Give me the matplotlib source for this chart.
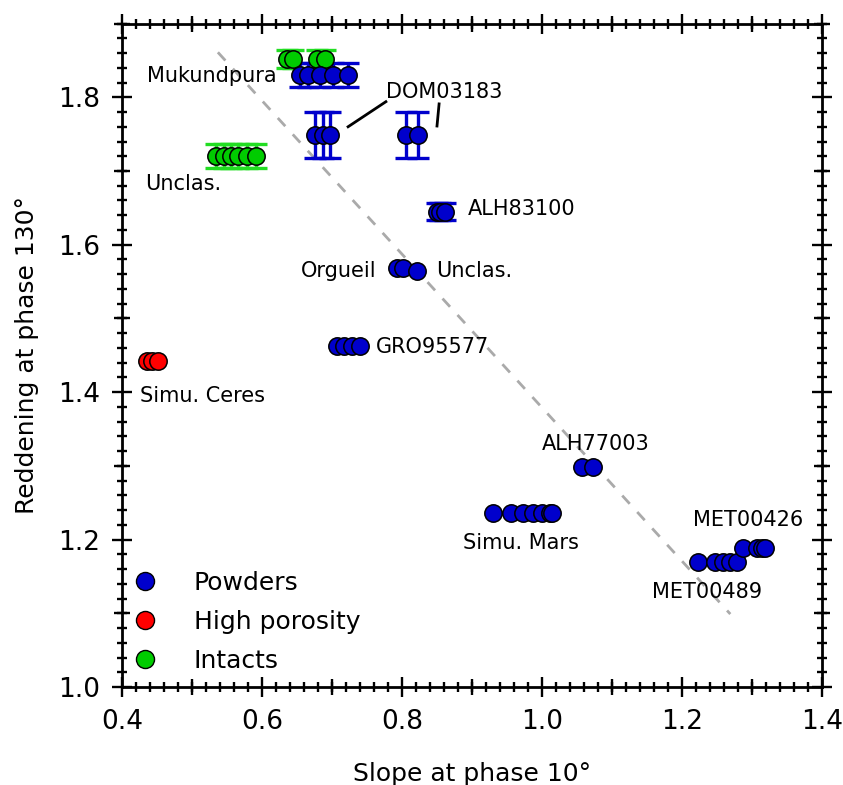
import matplotlib
matplotlib.use("Agg")
import matplotlib.pyplot as plt
import numpy as np
from matplotlib.lines import Line2D
from matplotlib.ticker import MultipleLocator, FixedLocator, NullFormatter

plt.rcParams['font.family'] = ['DejaVu Sans']

BLUE = '#0000cc'
RED = '#ff0000'
GREEN = '#00cc00'
GREEN_ERR = '#22dd22'

# powders (slope at 10 deg, reddening at 130 deg, error on reddening)
muk_x = [0.654, 0.666, 0.683, 0.701, 0.723]
muk_y = 1.830
muk_err = 0.016
dom_x = [0.676, 0.687, 0.697, 0.806, 0.823]
dom_y = 1.749
dom_err = 0.031
alh83_x = [0.850, 0.855, 0.862]
alh83_y = 1.645
alh83_err = 0.012
org_x = [0.793, 0.801]
org_y = 1.568
uncl_x = [0.821]
uncl_y = 1.565
gro_x = [0.707, 0.717, 0.729, 0.740]
gro_y = 1.462
alh77_x = [1.057, 1.073]
alh77_y = 1.298
mars_x = [0.930, 0.956, 0.973, 0.987, 1.000, 1.011, 1.014]
mars_y = 1.236
met489_x = [1.223, 1.247, 1.259, 1.269, 1.279]
met489_y = 1.170
met426_x = [1.287, 1.307, 1.314, 1.319]
met426_y = 1.189

# high porosity
ceres_x = [0.436, 0.443, 0.451]
ceres_y = 1.442

# intacts
muk_int_x = [0.636, 0.644, 0.679, 0.690]
muk_int_y = 1.852
muk_int_err = 0.012
unc_int_x = [0.534, 0.546, 0.556, 0.566, 0.578, 0.591]
unc_int_y = 1.720
unc_int_err = 0.016

# trend line
fit_x = [0.537, 1.269]
fit_y = [1.861, 1.099]

# labels: text, x, y, ha
labels = [
    ('Mukundpura', 0.621, 1.829, 'right'),
    ('Unclas.', 0.433, 1.682, 'left'),
    ('DOM03183', 0.777, 1.807, 'left'),
    ('ALH83100', 0.894, 1.648, 'left'),
    ('Orgueil', 0.764, 1.564, 'right'),
    ('Unclas.', 0.849, 1.564, 'left'),
    ('GRO95577', 0.763, 1.461, 'left'),
    ('Simu. Ceres', 0.426, 1.395, 'left'),
    ('ALH77003', 1.000, 1.330, 'left'),
    ('Simu. Mars', 0.887, 1.196, 'left'),
    ('MET00489', 1.157, 1.129, 'left'),
    ('MET00426', 1.216, 1.227, 'left'),
]
leader_lines = [
    ([0.723, 0.777], [1.760, 1.794]),
    ([0.853, 0.850], [1.791, 1.761]),
]


def draw_group(ax, xs, y, color, err=None, err_color=None):
    ys = [y] * len(xs)
    if err is not None:
        ax.errorbar(xs, ys, yerr=err, fmt='none', ecolor=err_color or color,
                    elinewidth=2.4, capsize=8, capthick=2.4, zorder=2)
    ax.plot(xs, ys, 'o', ms=12.5, mfc=color, mec='black', mew=1.1, zorder=3)


fig = plt.figure(figsize=(8.43, 7.85), dpi=100)
ax = fig.add_axes([0.1447, 0.1248, 0.8304, 0.8452])

ax.plot(fit_x, fit_y, color='#aaaaaa', lw=2, ls=(0, (4, 4)), zorder=1)

draw_group(ax, muk_int_x, muk_int_y, GREEN, muk_int_err, GREEN_ERR)
draw_group(ax, unc_int_x, unc_int_y, GREEN, unc_int_err, GREEN_ERR)
draw_group(ax, muk_x, muk_y, BLUE, muk_err)
draw_group(ax, dom_x, dom_y, BLUE, dom_err)
draw_group(ax, alh83_x, alh83_y, BLUE, alh83_err)
draw_group(ax, org_x, org_y, BLUE)
draw_group(ax, uncl_x, uncl_y, BLUE)
draw_group(ax, gro_x, gro_y, BLUE)
draw_group(ax, alh77_x, alh77_y, BLUE)
draw_group(ax, mars_x, mars_y, BLUE)
draw_group(ax, met489_x, met489_y, BLUE)
draw_group(ax, met426_x, met426_y, BLUE)
draw_group(ax, ceres_x, ceres_y, RED)

for txt, x, y, ha in labels:
    ax.text(x, y, txt, ha=ha, va='center', fontsize=15)
for lx, ly in leader_lines:
    ax.plot(lx, ly, color='black', lw=2)

ax.set_xlim(0.4, 1.4)
ax.set_ylim(1.0, 1.9)
ax.xaxis.set_major_locator(MultipleLocator(0.2))
ax.yaxis.set_major_locator(FixedLocator([1.0, 1.2, 1.4, 1.6, 1.8]))
ax.xaxis.set_minor_locator(MultipleLocator(0.02))
ax.yaxis.set_minor_locator(MultipleLocator(0.02))
ax.tick_params(which='major', direction='inout', length=15, width=1.7,
               top=True, right=True, labelsize=19, pad=8)
ax.tick_params(which='minor', direction='inout', length=7.5, width=1.7,
               top=True, right=True)
for sp in ax.spines.values():
    sp.set_linewidth(2)

# medium ticks at the odd tenths
mid_x = [0.5, 0.7, 0.9, 1.1, 1.3]
mid_y = [1.1, 1.3, 1.5, 1.7, 1.9]
for loc in ['bottom', 'top']:
    sec = ax.secondary_xaxis(loc)
    sec.set_xticks(mid_x)
    sec.xaxis.set_major_formatter(NullFormatter())
    sec.tick_params(direction='inout', length=11, width=1.7)
    sec.spines[loc].set_visible(False)
for loc in ['left', 'right']:
    sec = ax.secondary_yaxis(loc)
    sec.set_yticks(mid_y)
    sec.yaxis.set_major_formatter(NullFormatter())
    sec.tick_params(direction='inout', length=11, width=1.7)
    sec.spines[loc].set_visible(False)

ax.set_xlabel('Slope at phase 10°', fontsize=18, labelpad=20)
ax.set_ylabel('Reddening at phase 130°', fontsize=18, labelpad=14)

handles = [
    Line2D([], [], ls='none', marker='o', ms=13, mfc=BLUE, mec='black', label='Powders'),
    Line2D([], [], ls='none', marker='o', ms=13, mfc=RED, mec='black', label='High porosity'),
    Line2D([], [], ls='none', marker='o', ms=13, mfc=GREEN, mec='black', label='Intacts'),
]
ax.legend(handles=handles, loc='lower left', bbox_to_anchor=(-0.035, -0.013),
          frameon=False, fontsize=18, handletextpad=0.95, labelspacing=0.6)

fig.savefig('out.png', dpi=100)
